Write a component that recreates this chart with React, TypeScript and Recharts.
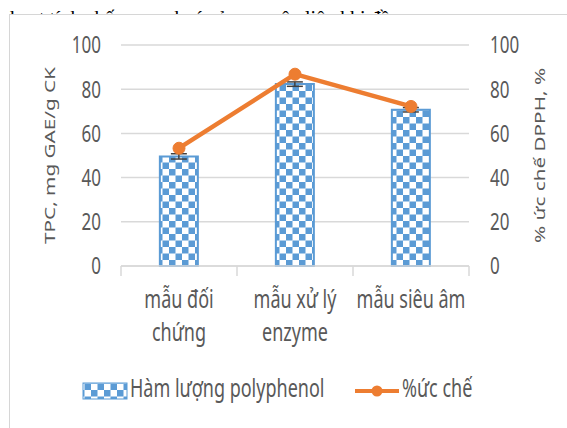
import {
  ComposedChart,
  Bar,
  Line,
  XAxis,
  YAxis,
  CartesianGrid,
  ErrorBar,
} from 'recharts';

// Samples on the category axis (line breaks = wrapped labels)
const categories = ['mẫu đối\nchứng', 'mẫu xử lý\nenzyme', 'mẫu siêu âm'];
// TPC, mg GAE/g CK
const polyphenol = [49.6, 82.3, 70.7];
const polyphenolErr = [1.2, 1.0, 1.0];
// % DPPH inhibition
const inhibition = [53.3, 86.8, 72.2];
const axisTicks = [0, 20, 40, 60, 80, 100];

const BLUE = '#5B9BD5';
const ORANGE = '#ED7D31';
const TEXT = '#595959';
const GRID = '#d9d9d9';
const FONT = "'Noto Sans', 'Open Sans', sans-serif";
// text in this figure is drawn a bit taller than wide
const STRETCH = 1.38;

const data = categories.map((name, i) => ({
  name,
  tpc: polyphenol[i],
  tpcErr: polyphenolErr[i],
  dpph: inhibition[i],
}));

const LeftTick = ({ x, y, payload }: any) => (
  <g transform={`translate(${x},${y}) scale(1,${STRETCH})`}>
    <text x={0} y={0} dy="0.36em" textAnchor="end" fontSize={17} fill={TEXT} fontFamily={FONT}>
      {payload.value}
    </text>
  </g>
);

const RightTick = ({ x, y, payload }: any) => (
  <g transform={`translate(${x},${y}) scale(1,${STRETCH})`}>
    <text x={0} y={0} dy="0.36em" textAnchor="start" fontSize={17} fill={TEXT} fontFamily={FONT}>
      {payload.value}
    </text>
  </g>
);

const CategoryTick = ({ x, y, payload, index }: any) => {
  const half = payload.offset ?? 0;
  const lines = String(payload.value).split('\n');
  const last = index === categories.length - 1;
  return (
    <g>
      <line x1={x - half} x2={x - half} y1={y} y2={y + 10} stroke={GRID} strokeWidth={1.5} />
      {last && <line x1={x + half} x2={x + half} y1={y} y2={y + 10} stroke={GRID} strokeWidth={1.5} />}
      <g transform={`translate(${x},${y}) scale(1,${STRETCH})`}>
        {lines.map((ln, i) => (
          <text key={i} x={0} y={30.5 + i * 24} textAnchor="middle" fontSize={18} fill={TEXT} fontFamily={FONT}>
            {ln}
          </text>
        ))}
      </g>
    </g>
  );
};

const axisTitle = (value: string, side: 'left' | 'right') => (props: any) => {
  const vb = props.viewBox;
  const cx = side === 'left' ? vb.x - 11 : vb.x + 71;
  const cy = vb.y + vb.height / 2;
  return (
    <g transform={`translate(${cx},${cy}) scale(1,${STRETCH}) rotate(-90)`}>
      <text x={0} y={0} dy="0.35em" textAnchor="middle" fontSize={15} fill={TEXT} fontFamily={FONT}>
        {value}
      </text>
    </g>
  );
};

const CheckerDefs = ({ id }: { id: string }) => (
  <defs>
    <pattern id={id} width={13} height={13} patternUnits="userSpaceOnUse">
      <rect width={13} height={13} fill="#fff" />
      <rect x={0} y={0} width={6.5} height={6.5} fill={BLUE} />
      <rect x={6.5} y={6.5} width={6.5} height={6.5} fill={BLUE} />
    </pattern>
  </defs>
);

const Legend = () => (
  <svg width={567} height={428} style={{ position: 'absolute', left: 0, top: 0, pointerEvents: 'none' }}>
    <CheckerDefs id="legendChecker" />
    <rect x={83} y={383} width={44} height={16} fill="url(#legendChecker)" stroke={BLUE} strokeWidth={1} />
    <g transform={`translate(130,397) scale(1,${STRETCH})`}>
      <text x={0} y={0} fontSize={18} fill={TEXT} fontFamily={FONT}>Hàm lượng polyphenol</text>
    </g>
    <line x1={355} x2={399} y1={391} y2={391} stroke={ORANGE} strokeWidth={4} />
    <circle cx={377} cy={391} r={5.5} fill={ORANGE} />
    <g transform={`translate(402,397) scale(1,${STRETCH})`}>
      <text x={0} y={0} fontSize={18} fill={TEXT} fontFamily={FONT}>%ức chế</text>
    </g>
  </svg>
);

export default function App() {
  return (
    <div style={{ position: 'absolute', left: 0, top: 0, width: 567, height: 428, overflow: 'hidden', background: '#fff' }}>
      {/* tail of the paragraph above the figure */}
      <svg width={567} height={30} style={{ position: 'absolute', left: 0, top: 0 }}>
        <text x={10} y={24.5} fontSize={20} fill="#000" fontFamily="'Liberation Serif', serif">
          hoạt tính chống oxy hoá của nguyên liệu khi đề
        </text>
      </svg>
      <div
        style={{
          position: 'absolute',
          left: 9,
          top: 14,
          width: 600,
          height: 450,
          background: '#fff',
          borderLeft: '1.5px solid #d6d6d6',
          borderTop: '1.5px solid #d6d6d6',
        }}
      />
      <div style={{ position: 'absolute', left: 0, top: 0 }}>
        <ComposedChart
          width={567}
          height={428}
          data={data}
          margin={{ top: 45, right: 38, bottom: 102, left: 61 }}
          barCategoryGap="33.5%"
        >
          <CheckerDefs id="barChecker" />
          <CartesianGrid yAxisId="left" vertical={false} stroke={GRID} strokeWidth={1.5} />
          <XAxis
            dataKey="name"
            height={60}
            tickSize={0}
            tickMargin={0}
            tickLine={false}
            axisLine={{ stroke: GRID, strokeWidth: 1.5 }}
            tick={<CategoryTick />}
            interval={0}
          />
          <YAxis
            yAxisId="left"
            orientation="left"
            width={60}
            domain={[0, 100]}
            ticks={axisTicks}
            axisLine={false}
            tickLine={false}
            tickMargin={14}
            tick={<LeftTick />}
            label={{ content: axisTitle('TPC, mg GAE/g CK', 'left') }}
          />
          <YAxis
            yAxisId="right"
            orientation="right"
            width={60}
            domain={[0, 100]}
            ticks={axisTicks}
            axisLine={false}
            tickLine={false}
            tickMargin={15}
            tick={<RightTick />}
            label={{ content: axisTitle('% ức chế DPPH, %', 'right') }}
          />
          <Bar
            yAxisId="left"
            dataKey="tpc"
            fill="url(#barChecker)"
            stroke={BLUE}
            strokeWidth={2}
            isAnimationActive={false}
          >
            <ErrorBar dataKey="tpcErr" width={8} stroke="#404040" strokeWidth={1.5} isAnimationActive={false} />
          </Bar>
          <Line
            yAxisId="right"
            type="linear"
            dataKey="dpph"
            stroke={ORANGE}
            strokeWidth={4.5}
            dot={{ r: 6, fill: ORANGE, stroke: ORANGE, strokeWidth: 1 }}
            isAnimationActive={false}
          />
        </ComposedChart>
      </div>
      <Legend />
    </div>
  );
}
